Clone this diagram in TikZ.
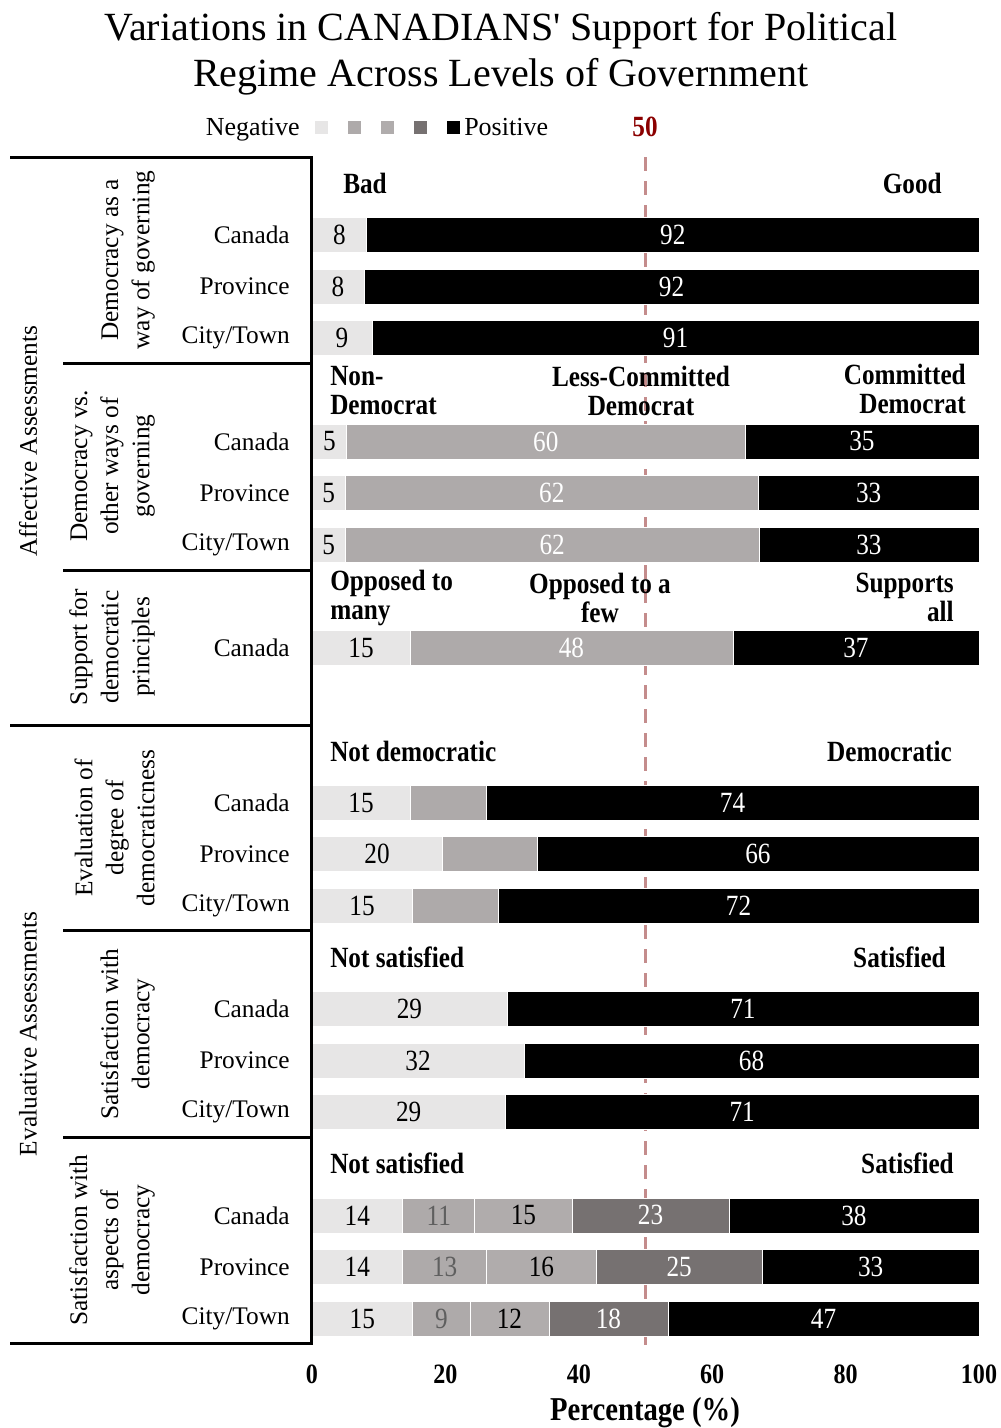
\documentclass[tikz,border=0pt]{standalone}
\usepackage{fontspec}
\setmainfont{Liberation Serif}
\newfontfamily\narrowf[FakeStretch=0.86]{Liberation Serif}
\newfontfamily\titlef[Ligatures=TeXOff]{Liberation Serif}
\definecolor{cL}{RGB}{231,230,230}
\definecolor{cM}{RGB}{174,170,170}
\definecolor{cMb}{RGB}{176,172,172}
\definecolor{cD}{RGB}{118,113,113}
\definecolor{dashc}{RGB}{196,140,140}
\definecolor{fifty}{RGB}{139,0,0}
\definecolor{lblg}{RGB}{95,95,95}
\tikzset{
  barlbl/.style={font=\narrowf\fontsize{22}{26}\selectfont, inner sep=0pt},
  rowlbl/.style={font=\fontsize{19}{23}\selectfont, anchor=east, inner sep=0pt},
  grplbl/.style={font=\fontsize{19}{23.3}\selectfont, rotate=90, anchor=south, align=center, inner sep=0pt},
  biglbl/.style={font=\fontsize{19}{23}\selectfont, rotate=90, inner sep=0pt},
  hdr/.style={font=\narrowf\bfseries\fontsize{22}{21.75}\selectfont, inner sep=0pt},
  ticklbl/.style={font=\narrowf\bfseries\fontsize{21}{24}\selectfont, inner sep=0pt},
  framel/.style={line width=2.25pt},
  legsq/.style={inner sep=0pt, minimum size=9.75pt},
}
\newcommand\barrow[3]{%
  \foreach \s/\e/\c/\l/\t [count=\i] in {#3}{%
    \fill[\c, draw=white, line width=0.4pt] ({312+6.67*\s},{235+51.6*#2-17.5}) rectangle ({312+6.67*\e},{235+51.6*#2+17.5});
    \node[barlbl, text=\t] (#1-\i) at ({312+6.67*(\s+\e)/2},{235+51.6*#2}) {\l};
  }%
}
\begin{document}
\begin{tikzpicture}[x=0.75pt,y=-0.75pt]
\useasboundingbox (0,0) rectangle (1000,1428);
\fill[white] (0,0) rectangle (1000,1428);
% title
\node[font=\titlef\fontsize{30}{34.5}\selectfont, align=center, inner sep=0pt] (title) at (501,54) {Variations in CANADIANS' Support for Political\\Regime Across Levels of Government};
% legend
\node[font=\fontsize{19.5}{23}\selectfont, anchor=base east, inner sep=0pt] (legneg) at (300,135) {Negative};
\node[legsq, fill=cL] (sq1) at (321.5,127.5) {};
\node[legsq, fill=cM] (sq2) at (354.5,127.5) {};
\node[legsq, fill=cMb] (sq3) at (387.5,127.5) {};
\node[legsq, fill=cD] (sq4) at (420.5,127.5) {};
\node[legsq, fill=black] (sq5) at (453.5,127.5) {};
\node[font=\fontsize{19.5}{23}\selectfont, anchor=base west, inner sep=0pt] (legpos) at (464,135) {Positive};
\node[font=\narrowf\bfseries\fontsize{22}{24}\selectfont, text=fifty, inner sep=0pt] (fifty) at (645,127) {50};
% dashed 50 line
\draw[dashc, line width=2.25pt, dash pattern=on 10.5pt off 7.5pt] (645,157) -- (645,1345);
% bars
\barrow{r0}{0}{0/8.2/cL/8/black, 8.2/100/black/92/white}
\barrow{r1}{1}{0/7.8/cL/8/black, 7.8/100/black/92/white}
\barrow{r2}{2}{0/9/cL/9/black, 9/100/black/91/white}
\barrow{r4}{4}{0/5.2/cL/5/black, 5.2/64.9/cM/60/white, 64.9/100/black/35/white}
\barrow{r5}{5}{0/5/cL/5/black, 5/66.9/cM/62/white, 66.9/100/black/33/white}
\barrow{r6}{6}{0/5/cL/5/black, 5/67/cM/62/white, 67/100/black/33/white}
\barrow{r8}{8}{0/14.7/cL/15/black, 14.7/63.1/cM/48/white, 63.1/100/black/37/white}
\barrow{r11}{11}{0/14.7/cL/15/black, 14.7/26.1/cM/{}/black, 26.1/100/black/74/white}
\barrow{r12}{12}{0/19.5/cL/20/black, 19.5/33.7/cM/{}/black, 33.7/100/black/66/white}
\barrow{r13}{13}{0/15/cL/15/black, 15/27.9/cM/{}/black, 27.9/100/black/72/white}
\barrow{r15}{15}{0/29.2/cL/29/black, 29.2/100/black/71/white}
\barrow{r16}{16}{0/31.8/cL/32/black, 31.8/100/black/68/white}
\barrow{r17}{17}{0/29/cL/29/black, 29/100/black/71/white}
\barrow{r19}{19}{0/13.6/cL/14/black, 13.6/24.4/cM/11/lblg, 24.4/39/cMb/15/black, 39/62.5/cD/23/white, 62.5/100/black/38/white}
\barrow{r20}{20}{0/13.6/cL/14/black, 13.6/26.2/cM/13/lblg, 26.2/42.6/cMb/16/black, 42.6/67.5/cD/25/white, 67.5/100/black/33/white}
\barrow{r21}{21}{0/15.1/cL/15/black, 15.1/23.7/cM/9/lblg, 23.7/35.5/cMb/12/black, 35.5/53.4/cD/18/white, 53.4/100/black/47/white}
% frame
\draw[framel] (10,157) -- (311,157) -- (311,1343) -- (10,1343);
\draw[framel] (10,725) -- (311,725);
\draw[framel] (63,363) -- (311,363);
\draw[framel] (63,570) -- (311,570);
\draw[framel] (63,930) -- (311,930);
\draw[framel] (63,1137) -- (311,1137);
% big labels
\node[biglbl] (aff) at (28,441) {Affective Assessments};
\node[biglbl] (eva) at (28,1034) {Evaluative Assessments};
% group labels
\node[grplbl] (g1) at (155,260) {Democracy as a\\way of governing};
\node[grplbl] (g2) at (155,466) {Democracy vs.\\other ways of\\governing};
\node[grplbl] (g3) at (155,647) {Support for\\democratic\\principles};
\node[grplbl] (g4) at (155,828) {Evaluation of\\degree of\\democraticness};
\node[grplbl] (g5) at (155,1034) {Satisfaction with\\democracy};
\node[grplbl] (g6) at (155,1240) {Satisfaction with\\aspects of\\democracy};
% row labels
\foreach \k/\t/\n in {0/Canada/l0, 1/Province/l1, 2/City\slash Town/l2,
  4/Canada/l4, 5/Province/l5, 6/City\slash Town/l6, 8/Canada/l8,
  11/Canada/l11, 12/Province/l12, 13/City\slash Town/l13,
  15/Canada/l15, 16/Province/l16, 17/City\slash Town/l17,
  19/Canada/l19, 20/Province/l20, 21/City\slash Town/l21}
  \node[rowlbl] (\n) at (290,{235+51.6*\k}) {\t};
% headers
\node[hdr, anchor=west] (h1a) at (343,183.4) {Bad};
\node[hdr, anchor=east] (h1b) at (942,183.4) {Good};
\node[hdr, anchor=west, align=left] (h2a) at (330,390.5) {Non-\\Democrat};
\node[hdr, align=center] (h2b) at (641,390.5) {Less-Committed\\Democrat};
\node[hdr, anchor=east, align=right] (h2c) at (966,388.5) {Committed\\Democrat};
\node[hdr, anchor=west, align=left] (h3a) at (330,597.5) {Opposed to\\many};
\node[hdr, align=center] (h3b) at (600,597.5) {Opposed to a\\few};
\node[hdr, anchor=east, align=right] (h3c) at (954,597.5) {Supports\\all};
\node[hdr, anchor=west] (h4a) at (330,751) {Not democratic};
\node[hdr, anchor=east] (h4b) at (952,751) {Democratic};
\node[hdr, anchor=west] (h5a) at (330,957.4) {Not satisfied};
\node[hdr, anchor=east] (h5b) at (946,957.4) {Satisfied};
\node[hdr, anchor=west] (h6a) at (330,1163.8) {Not satisfied};
\node[hdr, anchor=east] (h6b) at (954,1163.8) {Satisfied};
% axis ticks
\foreach \v [count=\i] in {0,20,40,60,80,100}
  \node[ticklbl] (t\i) at ({312+6.67*\v},1374) {\v};
\node[font=\narrowf\bfseries\fontsize{25}{28}\selectfont, inner sep=0pt] (xlab) at (645,1413) {Percentage (\%)};
\end{tikzpicture}
\end{document}
